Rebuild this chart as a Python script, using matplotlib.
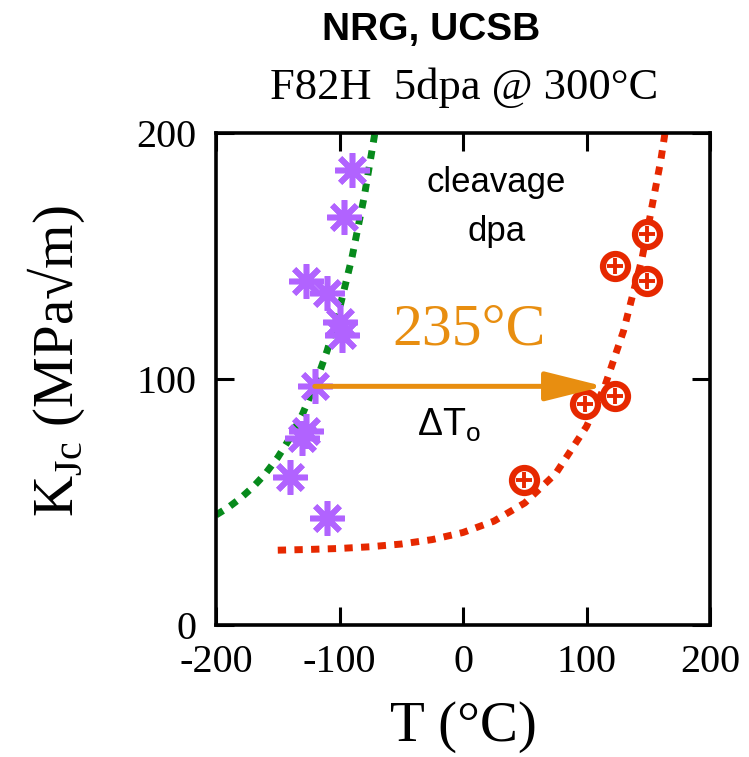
import matplotlib
matplotlib.use("Agg")
import matplotlib.pyplot as plt

plt.rcParams["axes.unicode_minus"] = False
plt.rcParams["mathtext.fontset"] = "custom"
plt.rcParams["mathtext.rm"] = "Liberation Serif"
plt.rcParams["mathtext.sf"] = "Liberation Sans"

# irradiated (5 dpa) data, cleavage tests
T_irr = [-90, -96, -127, -110, -100, -98, -120, -130, -127, -140, -110]
K_irr = [185, 166, 140, 135, 123, 118, 97, 76, 79, 60, 43.5]

# unirradiated data
T_unirr = [149, 123, 149, 123, 99, 49]
K_unirr = [159, 146, 140, 93, 90, 59]

# master curves
T_fit_unirr = [-200, -190, -180, -170, -160, -150, -140, -130, -120, -110, -100, -90, -80, -70]
K_fit_unirr = [44.7, 47.8, 51.6, 56.1, 61.5, 68.1, 76.1, 85.7, 97.4, 111.5, 128.6, 149.2, 174.1, 204]

T_fit_irr = [-150, -125, -100, -75, -50, -25, 0, 25, 50, 75, 100, 115, 130, 145, 160, 168]
K_fit_irr = [30.4, 30.7, 31.1, 31.8, 32.9, 34.7, 37.6, 42.2, 49.6, 61.5, 80.7, 97.4, 119.6, 149.2, 188.5, 214.5]

# T0 shift arrow
shift_start = -120
shift_end = 114
shift_K = 97
shift_label = "235°C"

serif = ["Liberation Serif", "DejaVu Serif"]
sans = "Liberation Sans"

fig = plt.figure(figsize=(7.49, 7.57), dpi=100)
ax = fig.add_axes([0.2884, 0.1744, 0.6596, 0.65])

ls_dot = (0, (1.2, 1.2))
ax.plot(T_fit_unirr, K_fit_unirr, color="#078a1c", lw=5, ls=ls_dot, zorder=2)
ax.plot(T_fit_irr, K_fit_irr, color="#e62800", lw=5, ls=ls_dot, zorder=2)

ax.plot(T_irr, K_irr, ls="none", marker=(8, 2, 0), ms=25, mew=4,
        color="#b163ff", zorder=3)
ax.plot(T_unirr, K_unirr, ls="none", marker="o", ms=18, mfc="white",
        mec="#e62800", mew=4.5, zorder=4)
ax.plot(T_unirr, K_unirr, ls="none", marker="+", ms=11, mew=2.8,
        color="#e62800", zorder=5)

ax.annotate("", xy=(shift_end, shift_K), xytext=(shift_start, shift_K),
            arrowprops=dict(arrowstyle="-|>,head_length=1.8,head_width=0.45",
                            mutation_scale=20, lw=3.6, color="#e88e10",
                            shrinkA=0, shrinkB=0), zorder=6)

ax.text(5, 114, shift_label, color="#e88e10", fontsize=43, family=serif,
        ha="center", va="baseline")
ax.text(27, 176, "cleavage", fontsize=25, family=sans, ha="center", va="baseline")
ax.text(27, 156, "dpa", fontsize=25, family=sans, ha="center", va="baseline")
ax.text(-37, 77, r"ΔT$_\mathsf{o}$", fontsize=27, family=sans,
        ha="left", va="baseline")

ax.set_xlim(-200, 200)
ax.set_ylim(0, 200)
ax.set_xticks([-200, -100, 0, 100, 200])
ax.set_yticks([0, 100, 200])
ax.tick_params(direction="in", length=13, width=2.2, top=True, right=True,
               labelsize=29, pad=14)
for lab in ax.get_xticklabels() + ax.get_yticklabels():
    lab.set_family(serif)
for sp in ax.spines.values():
    sp.set_linewidth(2.6)

ax.set_xlabel("T (°C)", fontsize=41, family=serif, labelpad=14)
ax.set_ylabel(r"K$_\mathrm{Jc}$ (MPa√m)", fontsize=41, family=serif)
ax.yaxis.set_label_coords(-0.262, 0.535)

fig.text(431 / 749, 1 - 40 / 757, "NRG, UCSB", fontsize=28, family=sans,
         weight="bold", ha="center", va="baseline")
fig.text(464 / 749, 1 - 99 / 757, "F82H  5dpa @ 300°C", fontsize=32,
         family=serif, ha="center", va="baseline")

fig.savefig("out.png", dpi=100)
